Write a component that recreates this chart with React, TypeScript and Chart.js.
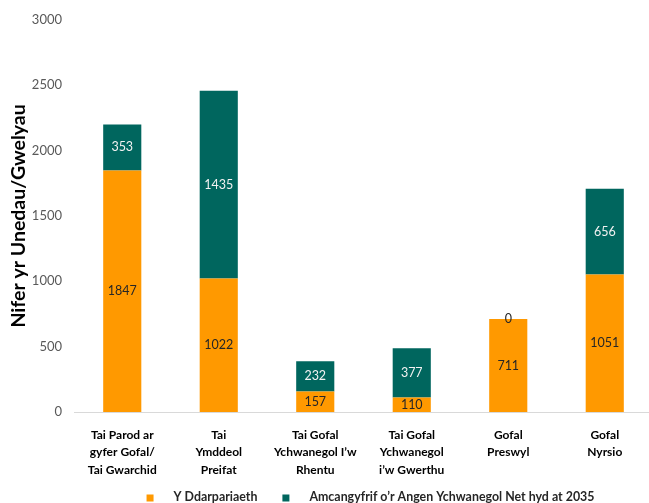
import React, { useEffect, useRef } from "react";
import { Chart, registerables } from "chart.js";

Chart.register(...registerables);

const categories: string[][] = [
  ["Tai Parod ar", "gyfer Gofal/", "Tai Gwarchid"],
  ["Tai", "Ymddeol", "Preifat"],
  ["Tai Gofal", "Ychwanegol I’w", "Rhentu"],
  ["Tai Gofal", "Ychwanegol", "i’w Gwerthu"],
  ["Gofal", "Preswyl"],
  ["Gofal", "Nyrsio"],
];
const provision: number[] = [1847, 1022, 157, 110, 711, 1051];
const additionalNeed: number[] = [353, 1435, 232, 377, 0, 656];
const seriesNames: string[] = ["Y Ddarpariaeth", "Amcangyfrif o’r Angen Ychwanegol Net hyd at 2035"];
const yMin = 0;
const yMax = 3000;
const yStep = 500;

const ORANGE = "#FF9900";
const TEAL = "#00665E";
const FONT = "Lato, 'Open Sans', sans-serif";

const valueLabels = {
  id: "valueLabels",
  afterDatasetsDraw(chart: any) {
    const ctx = chart.ctx;
    ctx.save();
    ctx.font = `12.5px ${FONT}`;
    ctx.textAlign = "center";
    ctx.textBaseline = "middle";
    chart.data.datasets.forEach((ds: any, di: number) => {
      const meta = chart.getDatasetMeta(di);
      meta.data.forEach((el: any, i: number) => {
        const v = ds.data[i];
        let y: number;
        let color: string;
        if (v === 0) {
          y = el.y;
          color = "#262626";
        } else {
          y = (el.y + el.base) / 2;
          color = di === 0 ? "#262626" : "#F2F2F2";
        }
        ctx.fillStyle = color;
        ctx.fillText(String(v), el.x, y);
      });
    });
    ctx.restore();
  },
};

// Legend drawn under the x axis, using the datasets' own labels and colours.
const bottomLegend = {
  id: "bottomLegend",
  afterDraw(chart: any) {
    const ctx = chart.ctx;
    const box = 7;
    const boxGap = 20;
    const itemGap = 25;
    const y = 497;
    ctx.save();
    ctx.font = `bold 12.4px ${FONT}`;
    ctx.textBaseline = "middle";
    ctx.textAlign = "left";
    const items = chart.data.datasets.map((ds: any) => ({
      text: ds.label as string,
      color: ds.backgroundColor as string,
      w: ctx.measureText(ds.label).width,
    }));
    const total =
      items.reduce((s: number, it: any) => s + box + boxGap + it.w, 0) + itemGap * (items.length - 1);
    const center = (chart.chartArea.left + chart.chartArea.right) / 2 + 7;
    let x = center - total / 2;
    items.forEach((it: any) => {
      ctx.fillStyle = it.color;
      ctx.fillRect(x, y + 1 - box / 2, box, box);
      x += box + boxGap;
      ctx.fillStyle = "#262626";
      ctx.fillText(it.text, x, y);
      x += it.w + itemGap;
    });
    ctx.restore();
  },
};

export default function App() {
  const ref = useRef<HTMLCanvasElement>(null);

  useEffect(() => {
    if (!ref.current) return;
    const chart = new Chart(ref.current, {
      type: "bar",
      data: {
        labels: categories,
        datasets: [
          {
            label: seriesNames[0],
            data: provision,
            backgroundColor: ORANGE,
            borderWidth: 0,
            categoryPercentage: 1,
            barPercentage: 0.395,
          },
          {
            label: seriesNames[1],
            data: additionalNeed,
            backgroundColor: TEAL,
            borderWidth: 0,
            categoryPercentage: 1,
            barPercentage: 0.395,
          },
        ],
      },
      options: {
        responsive: false,
        animation: false,
        devicePixelRatio: 1,
        layout: { padding: { top: 18, right: 0, bottom: 18, left: 0 } },
        plugins: {
          tooltip: { enabled: false },
          legend: { display: false },
        },
        scales: {
          x: {
            stacked: true,
            grid: { display: false, drawTicks: false },
            border: { display: true, color: "#D9D9D9", width: 1 },
            ticks: {
              padding: 14,
              color: "#000000",
              maxRotation: 0,
              autoSkip: false,
              font: { family: FONT, size: 12, weight: "bold", lineHeight: 1.46 },
            },
            afterFit: (s: any) => {
              s.height = 73;
            },
          },
          y: {
            stacked: true,
            min: yMin,
            max: yMax,
            grid: { display: false, drawTicks: false },
            border: { display: false },
            ticks: {
              stepSize: yStep,
              padding: 12,
              color: "#595959",
              font: { family: FONT, size: 13 },
              callback: (v: any) => String(v),
            },
            title: {
              display: true,
              text: "Nifer yr Unedau/Gwelyau",
              color: "#000000",
              padding: { top: 7, bottom: 0 },
              font: { family: FONT, size: 19.5, weight: "bold" },
            },
            afterFit: (s: any) => {
              s.width = 74;
            },
          },
        },
      },
      plugins: [valueLabels, bottomLegend],
    });
    return () => chart.destroy();
  }, []);

  return (
    <div
      style={{
        position: "fixed",
        left: 0,
        top: 0,
        width: 649,
        height: 503,
        overflow: "hidden",
        background: "#ffffff",
      }}
    >
      <canvas ref={ref} width={653} height={503} style={{ display: "block" }} />
    </div>
  );
}
